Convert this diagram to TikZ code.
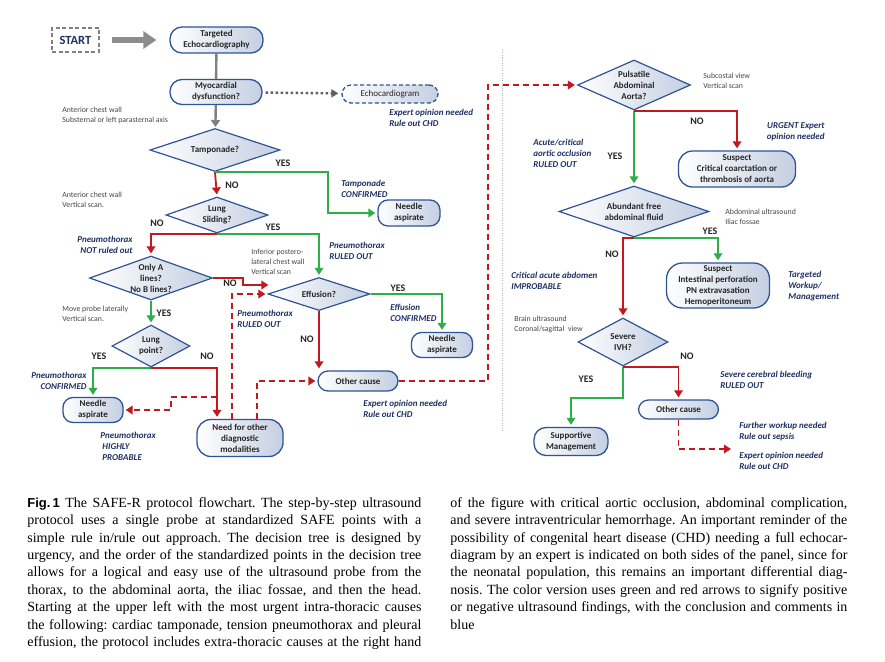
\documentclass[tikz,border=0pt]{standalone}
\usepackage{fontspec}
\setmainfont{Liberation Serif}
\newfontfamily\dfont{Carlito}
\newfontfamily\figfont{Liberation Sans}
\usetikzlibrary{shapes.geometric,arrows.meta}
\definecolor{navy}{RGB}{47,84,150}
\definecolor{ink}{RGB}{31,48,100}
\definecolor{fillb}{RGB}{196,207,226}
\definecolor{okgreen}{RGB}{44,174,72}
\definecolor{nored}{RGB}{192,26,32}
\definecolor{arrowgray}{RGB}{128,128,128}
\definecolor{dotgray}{RGB}{95,95,95}
\definecolor{notegray}{RGB}{70,70,70}
\definecolor{panelblue}{RGB}{170,184,214}
\frenchspacing
\begin{document}
\begin{tikzpicture}[x=1pt, y=-1pt, thick,
        main/.style = {draw=navy, line width=1.3pt, rounded corners=10pt, left color=white, right color=fillb, text=black!85, font=\dfont\bfseries\fontsize{9}{11}\selectfont, align=center, inner sep=0pt},
        dec/.style = {diamond, draw=navy, line width=1.2pt, left color=white, right color=fillb, text=black!85, font=\dfont\bfseries\fontsize{9}{11}\selectfont, align=center, inner sep=0pt},
        grayline/.style = {draw=arrowgray, line width=2.4pt},
        yesline/.style = {draw=okgreen, line width=1.8pt, -{Triangle[length=7pt,width=8.5pt]}, shorten >=2pt},
        noline/.style = {draw=nored, line width=1.8pt, -{Triangle[length=7pt,width=8.5pt]}, shorten >=2pt},
        nodashed/.style = {noline, dash pattern=on 6pt off 4pt},
        note/.style = {font=\dfont\fontsize{7.8}{10}\selectfont, text=notegray, align=left, inner sep=0pt, anchor=west},
        concl/.style = {font=\dfont\bfseries\itshape\fontsize{9}{11}\selectfont, text=ink, align=left, inner sep=0pt, anchor=west},
        ans/.style = {font=\dfont\bfseries\fontsize{10}{12}\selectfont, text=black!85, inner sep=0pt}]
        \fill[white] (0,0) rectangle (885,661);
        \useasboundingbox (0,0) rectangle (885,661);
        \node[draw=arrowgray, dash pattern=on 4pt off 2.5pt, line width=1.3pt, minimum width=47pt, minimum height=24pt, inner sep=0pt, text=ink, font=\dfont\bfseries\fontsize{12.5}{14}\selectfont] (1) at (75.5,40) {START};
        \node[main, minimum width=93pt, minimum height=26pt, rounded corners=12pt] (2) at (216.5,40) {Targeted\\Echocardiography};
        \node[main, minimum width=92pt, minimum height=25pt, rounded corners=12pt] (3) at (216,92) {Myocardial\\dysfunction?};
        \node[main, dash pattern=on 4pt off 2.5pt, minimum width=96pt, minimum height=18pt, rounded corners=9pt, font=\dfont\fontsize{9}{11}\selectfont] (4) at (390,94) {Echocardiogram};
        \node[dec, minimum width=130pt, minimum height=43pt, aspect=3.0] (5) at (215,150) {Tamponade?};
        \node[main, minimum width=62pt, minimum height=26pt] (6) at (409,213) {Needle\\aspirate};
        \node[dec, minimum width=102pt, minimum height=36pt, aspect=2.83] (7) at (217,215) {Lung\\Sliding?};
        \node[dec, minimum width=123pt, minimum height=44pt, aspect=2.8] (8) at (151,278) {Only A\\lines?\\No B lines?};
        \node[dec, minimum width=102pt, minimum height=33pt, aspect=3.1] (9) at (319,294) {Effusion?};
        \node[main, minimum width=61pt, minimum height=25pt] (10) at (442,345) {Needle\\aspirate};
        \node[dec, minimum width=78pt, minimum height=42pt, aspect=1.86] (11) at (151,346) {Lung\\point?};
        \node[main, minimum width=60pt, minimum height=25pt] (12) at (93,410) {Needle\\aspirate};
        \node[main, minimum width=86pt, minimum height=37pt, rounded corners=14pt] (13) at (240,438) {Need for other\\diagnostic\\modalities};
        \node[main, minimum width=80pt, minimum height=20pt] (14) at (358,381) {Other cause};
        \node[dec, minimum width=113pt, minimum height=50pt, aspect=2.26] (15) at (634,85) {Pulsatile\\Abdominal\\Aorta?};
        \node[main, minimum width=117pt, minimum height=36pt, rounded corners=14pt] (16) at (737,169) {Suspect\\Critical coarctation or\\thrombosis of aorta};
        \node[dec, minimum width=150pt, minimum height=51pt, aspect=2.94] (17) at (634,211.5) {Abundant free\\abdominal fluid};
        \node[main, minimum width=103pt, minimum height=45pt, rounded corners=16pt] (18) at (718,285.5) {Suspect\\Intestinal perforation\\PN extravasation\\Hemoperitoneum};
        \node[dec, minimum width=90pt, minimum height=48pt, aspect=1.875] (19) at (623,342) {Severe\\IVH?};
        \node[main, minimum width=80pt, minimum height=19pt] (20) at (678.5,409.5) {Other cause};
        \node[main, minimum width=74pt, minimum height=28pt, rounded corners=12pt] (21) at (571,441.5) {Supportive\\Management};
        \coordinate (22) at (733,449);
        \coordinate (p1) at (502,50);
        \coordinate (p2) at (502,432);
        \draw[draw=panelblue, line width=0.6pt, dash pattern=on 1pt off 1.5pt] (p1) -- (p2);
        \draw[draw=arrowgray!90, line width=6pt, -{Triangle[length=13pt,width=17pt]}, shorten <=12pt, shorten >=13pt] (1) -- (2);
        \draw[grayline] (2) -- (3);
        \draw[grayline, -{Triangle[length=7pt,width=9pt]}, shorten >=1pt] (3) -- (5);
        \draw[grayline, draw=dotgray, dash pattern=on 2.5pt off 2.5pt, -{Triangle[length=7pt,width=8pt]}, shorten <=3pt, shorten >=3pt] (3) -- (4);
        \draw[noline] (5.south) -- (7.north);
        \draw[yesline] (5.south) -- ++(113,0) |- (6.west);
        \draw[noline] (7.south) -| (8.north);
        \draw[yesline] (7.south) -| (9.north);
        \draw[noline] (8.east) -- ++(30,0) |- ([xshift=3pt,yshift=9pt]9.west);
        \draw[nodashed] ([xshift=-8pt]13.north) |- (9.west);
        \draw[yesline] (8.south) -- (11.north);
        \draw[yesline] (9.east) -| (10.north);
        \draw[noline] (9.south) -- (9.south |- 14.north);
        \draw[nodashed] (14.east) -- ++(89,0) |- (15.west);
        \draw[nodashed] ([xshift=17pt]13.north) |- (14.west);
        \draw[yesline] (11.south) -| (12.north);
        \draw[noline] (11.south) -| ([xshift=-23pt]13.north);
        \draw[nodashed] ([xshift=-23pt,yshift=22pt]13.north) -| ([xshift=47pt]12.east) -- (12.east);
        \draw[yesline] (15.south) -- (17.north);
        \draw[noline] (15.south) -| (16.north);
        \draw[yesline] (17.south) -| (18.north);
        \draw[noline] (17.south) -| (19.north);
        \draw[yesline] (19.south) -- ++(0,31) -| (21.north);
        \draw[noline] (19.south) -| (20.north);
        \draw[nodashed] (20.south) |- (22);
        \node[note] (n1) at (62,115) {Anterior chest wall\\Substernal or left parasternal axis};
        \node[note] (n2) at (62,199.5) {Anterior chest wall\\Vertical scan.};
        \node[note] (n3) at (251,261.5) {Inferior postero-\\lateral chest wall\\Vertical scan};
        \node[note] (n4) at (62,314) {Move probe laterally\\Vertical scan.};
        \node[note] (n5) at (703,81) {Subcostal view\\Vertical scan};
        \node[note] (n6) at (725,216.5) {Abdominal ultrasound\\Iliac fossae};
        \node[note] (n7) at (514,324.5) {Brain ultrasound\\Coronal/sagittal\ \ view};
        \node[concl] (c1) at (389,118) {Expert opinion needed\\Rule out CHD};
        \node[concl] (c2) at (341,188.5) {Tamponade\\CONFIRMED};
        \node[concl, anchor=east, align=right] (c3) at (133,244.5) {Pneumothorax\\NOT ruled out};
        \node[concl] (c4) at (329,251) {Pneumothorax\\RULED OUT};
        \node[concl] (c5) at (237,318.5) {Pneumothorax\\RULED OUT};
        \node[concl] (c6) at (390,312.5) {Effusion\\CONFIRMED};
        \node[concl, anchor=east, align=right] (c7) at (87,381) {Pneumothorax\\CONFIRMED};
        \node[concl] (c8) at (100,446) {Pneumothorax\\\ HIGHLY\\\ PROBABLE};
        \node[concl] (c9) at (363,408.5) {Expert opinion needed\\Rule out CHD};
        \node[concl] (c10) at (533,153) {Acute/critical\\aortic occlusion\\RULED OUT};
        \node[concl, anchor=east, align=right] (c11) at (825,131.5) {URGENT Expert\\opinion needed};
        \node[concl] (c12) at (511,280.5) {Critical acute abdomen\\IMPROBABLE};
        \node[concl] (c13) at (788,286) {Targeted\\Workup/\\Management};
        \node[concl] (c14) at (720,379.5) {Severe cerebral bleeding\\RULED OUT};
        \node[concl] (c15) at (739,431.5) {Further workup needed\\Rule out sepsis};
        \node[concl] (c16) at (739,460.5) {Expert opinion needed\\Rule out CHD};
        \node[ans] (a1) at (283,163) {YES};
        \node[ans] (a2) at (232,185) {NO};
        \node[ans] (a3) at (157,223) {NO};
        \node[ans] (a4) at (273,227) {YES};
        \node[ans] (a5) at (230,283) {NO};
        \node[ans] (a6) at (164,313) {YES};
        \node[ans] (a7) at (398,288) {YES};
        \node[ans] (a8) at (307,339) {NO};
        \node[ans] (a9) at (99,356) {YES};
        \node[ans] (a10) at (207,356) {NO};
        \node[ans] (a11) at (697,121) {NO};
        \node[ans] (a12) at (615,156) {YES};
        \node[ans] (a13) at (710,231) {YES};
        \node[ans] (a14) at (612,254) {NO};
        \node[ans] (a15) at (687,356) {NO};
        \node[ans] (a16) at (586,379) {YES};
        \node[anchor=north west, inner sep=0pt, text width=394pt, align=justify, font=\fontsize{14}{17.4}\selectfont] (cap1) at (27,497) {\hyphenpenalty=10000 \exhyphenpenalty=10000 {\figfont\bfseries\fontsize{13}{17.4}\selectfont Fig.\,1} The SAFE-R protocol flowchart. The step-by-step ultrasound\linebreak protocol uses a single probe at standardized SAFE points with a\linebreak simple rule in/rule out approach. The decision tree is designed by\linebreak urgency, and the order of the standardized points in the decision tree\linebreak allows for a logical and easy use of the ultrasound probe from the\linebreak thorax, to the abdominal aorta, the iliac fossae, and then the head.\linebreak Starting at the upper left with the most urgent intra-thoracic causes\linebreak the following: cardiac tamponade, tension pneumothorax and pleural\linebreak effusion, the protocol includes extra-thoracic causes at the right hand{\parfillskip=0pt\par}};
        \node[anchor=north west, inner sep=0pt, text width=397pt, align=justify, font=\fontsize{14}{17.4}\selectfont] (cap2) at (450,497) {\hyphenpenalty=10000 \exhyphenpenalty=10000 of the figure with critical aortic occlusion, abdominal complication,\linebreak and severe intraventricular hemorrhage. An important reminder of the\linebreak possibility of congenital heart disease (CHD) needing a full echocar-\linebreak diagram by an expert is indicated on both sides of the panel, since for\linebreak the neonatal population, this remains an important differential diag-\linebreak nosis. The color version uses green and red arrows to signify positive\linebreak or negative ultrasound findings, with the conclusion and comments in\linebreak blue};
    \end{tikzpicture}
\end{document}
